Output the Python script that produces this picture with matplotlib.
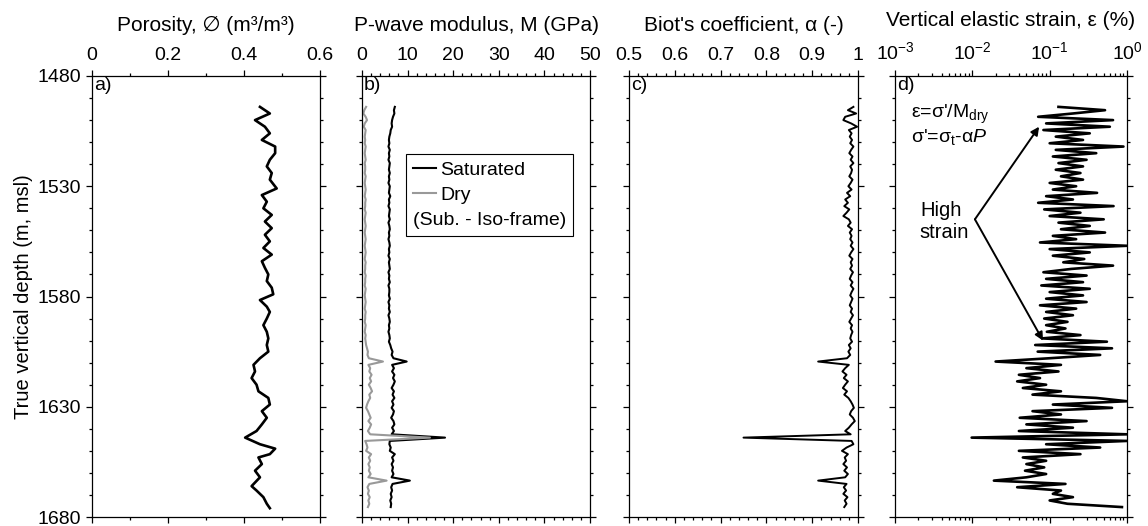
import matplotlib
matplotlib.use("Agg")
import matplotlib.pyplot as plt
from matplotlib.ticker import MultipleLocator, FixedLocator, FuncFormatter, LogLocator, NullFormatter

plt.rcParams['font.family'] = ['Liberation Sans', 'DejaVu Sans']
plt.rcParams['font.size'] = 14.5
plt.rcParams['mathtext.fontset'] = 'custom'
plt.rcParams['mathtext.rm'] = 'Liberation Sans'
plt.rcParams['mathtext.it'] = 'Liberation Sans:italic'
plt.rcParams['mathtext.sf'] = 'Liberation Sans'

depth_ticks = [1480, 1530, 1580, 1630, 1680]

# porosity log (smoothed), m3/m3
por_depth = [1494, 1497, 1500, 1503, 1506, 1509, 1512, 1515, 1518, 1521, 1524, 1527,
             1531, 1534, 1537, 1540, 1543, 1546, 1549, 1552, 1555, 1558, 1561, 1564,
             1567, 1570, 1573, 1576, 1579, 1581.6, 1584.6, 1587, 1590, 1593, 1596, 1599,
             1602, 1605, 1608, 1611, 1614, 1617, 1620, 1623, 1626, 1629, 1632, 1635,
             1638, 1641, 1644, 1647, 1649, 1651.5, 1653, 1656, 1659, 1662, 1666, 1668,
             1671, 1674, 1676]
porosity = [0.442, 0.468, 0.429, 0.455, 0.468, 0.447, 0.482, 0.482, 0.468, 0.460, 0.473, 0.468,
            0.486, 0.447, 0.460, 0.451, 0.473, 0.455, 0.473, 0.455, 0.468, 0.451, 0.473, 0.447,
            0.455, 0.464, 0.460, 0.473, 0.477, 0.442, 0.460, 0.468, 0.460, 0.451, 0.460, 0.464,
            0.460, 0.464, 0.442, 0.425, 0.429, 0.420, 0.433, 0.438, 0.464, 0.468, 0.447, 0.460,
            0.447, 0.433, 0.403, 0.442, 0.482, 0.468, 0.438, 0.447, 0.429, 0.442, 0.420, 0.433,
            0.451, 0.460, 0.468]

# sampled logs for panels b-d
depth = [1494.0, 1495.5, 1497.0, 1498.5, 1500.0, 1501.5, 1503.0, 1504.5, 1506.0, 1507.5,
         1509.0, 1510.5, 1512.0, 1513.5, 1515.0, 1516.5, 1518.0, 1519.5, 1521.0, 1522.5,
         1524.0, 1525.5, 1527.0, 1528.5, 1530.0, 1531.5, 1533.0, 1534.5, 1536.0, 1537.5,
         1539.0, 1540.5, 1542.0, 1543.5, 1545.0, 1546.5, 1548.0, 1549.5, 1551.0, 1552.5,
         1554.0, 1555.5, 1557.0, 1558.5, 1560.0, 1561.5, 1563.0, 1564.5, 1566.0, 1567.5,
         1569.0, 1570.5, 1572.0, 1573.5, 1575.0, 1576.5, 1578.0, 1579.5, 1581.0, 1582.5,
         1584.0, 1585.5, 1587.0, 1588.5, 1590.0, 1591.5, 1593.0, 1594.5, 1596.0, 1597.5,
         1599.0, 1600.5, 1602.0, 1603.5, 1605.0, 1606.5, 1608.0, 1609.5, 1611.0, 1612.5,
         1614.0, 1615.5, 1617.0, 1618.5, 1620.0, 1621.5, 1623.0, 1624.5, 1626.0, 1627.5,
         1629.0, 1630.5, 1632.0, 1633.5, 1635.0, 1636.5, 1638.0, 1639.5, 1641.0, 1642.5,
         1644.0, 1645.5, 1647.0, 1648.5, 1650.0, 1651.5, 1653.0, 1654.5, 1656.0, 1657.5,
         1659.0, 1660.5, 1662.0, 1663.5, 1665.0, 1666.5, 1668.0, 1669.5, 1671.0, 1672.5,
         1674.0, 1675.5]

m_sat = [7.2, 7.0, 7.1, 6.8, 6.6, 6.5, 6.6, 6.3, 6.2, 6.0,
         5.9, 6.0, 5.8, 6.1, 5.9, 6.0, 5.8, 6.1, 6.0, 5.9,
         6.1, 5.9, 6.0, 5.8, 6.1, 6.0, 5.9, 6.2, 5.9, 6.0,
         5.8, 6.1, 6.0, 5.9, 6.1, 5.8, 6.0, 6.1, 5.9, 6.0,
         5.8, 6.0, 6.1, 5.9, 6.0, 5.8, 6.1, 5.9, 6.0, 6.1,
         5.8, 6.0, 5.9, 6.1, 5.8, 6.0, 6.0, 5.9, 6.1, 5.8,
         6.0, 5.9, 6.1, 5.8, 6.0, 6.1, 5.9, 6.0, 5.8, 6.0,
         6.1, 5.9, 6.2, 6.4, 6.7, 6.5, 6.9, 9.8, 6.6, 7.0,
         6.6, 7.1, 6.8, 7.2, 6.9, 6.5, 7.0, 6.7, 7.1, 6.6,
         6.9, 6.5, 7.0, 6.8, 6.4, 6.9, 7.1, 6.6, 7.0, 6.5,
         18.2, 6.1, 6.0, 6.3, 6.1, 7.2, 6.6, 6.9, 6.5, 6.8,
         6.6, 6.9, 6.5, 10.5, 6.7, 6.4, 6.6, 6.3, 6.5, 6.2,
         6.4, 6.3]

m_dry = [0.9, 0.5, 0.3, 0.8, 1.1, 0.6, 0.4, 0.8, 0.7, 0.6,
         0.7, 0.6, 0.8, 0.7, 0.6, 0.7, 0.8, 0.6, 0.7, 0.7,
         0.6, 0.8, 0.7, 0.6, 0.7, 0.8, 0.7, 0.6, 0.8, 0.7,
         0.7, 0.6, 0.8, 0.7, 0.6, 0.7, 0.8, 0.7, 0.6, 0.7,
         0.8, 0.7, 0.6, 0.7, 0.8, 0.7, 0.6, 0.8, 0.7, 0.7,
         0.6, 0.8, 0.7, 0.7, 0.6, 0.8, 0.7, 0.6, 0.7, 0.8,
         0.7, 0.6, 0.8, 0.7, 0.7, 0.6, 0.8, 0.7, 0.6, 0.8,
         0.7, 0.8, 0.9, 1.1, 1.3, 1.2, 1.5, 4.6, 1.4, 1.8,
         1.6, 2.1, 1.7, 2.0, 1.5, 1.9, 2.2, 1.6, 1.8, 1.4,
         1.1, 0.9, 1.3, 1.6, 1.9, 1.4, 2.0, 1.7, 1.3, 1.8,
         14.9, 0.7, 1.0, 1.2, 0.9, 2.0, 1.5, 1.8, 1.4, 1.7,
         1.5, 1.9, 1.4, 5.4, 1.6, 1.2, 1.5, 1.3, 1.7, 1.4,
         1.6, 1.3]

biot = [0.990, 0.978, 0.996, 0.972, 0.968, 0.985, 0.998, 0.980, 0.986, 0.982,
        0.987, 0.983, 0.990, 0.985, 0.981, 0.988, 0.984, 0.990, 0.983, 0.987,
        0.985, 0.981, 0.988, 0.984, 0.979, 0.986, 0.976, 0.983, 0.972, 0.978,
        0.970, 0.981, 0.975, 0.968, 0.980, 0.984, 0.978, 0.987, 0.982, 0.986,
        0.983, 0.988, 0.984, 0.990, 0.985, 0.981, 0.988, 0.984, 0.987, 0.983,
        0.989, 0.985, 0.982, 0.988, 0.984, 0.990, 0.986, 0.983, 0.988, 0.985,
        0.982, 0.987, 0.984, 0.989, 0.985, 0.981, 0.987, 0.984, 0.988, 0.985,
        0.983, 0.987, 0.980, 0.984, 0.979, 0.983, 0.976, 0.913, 0.980, 0.972,
        0.966, 0.975, 0.969, 0.978, 0.972, 0.967, 0.976, 0.970, 0.979, 0.984,
        0.988, 0.991, 0.985, 0.982, 0.989, 0.993, 0.986, 0.980, 0.972, 0.984,
        0.750, 0.986, 0.990, 0.975, 0.965, 0.978, 0.971, 0.974, 0.968, 0.976,
        0.970, 0.978, 0.972, 0.913, 0.975, 0.969, 0.974, 0.968, 0.977, 0.971,
        0.975, 0.970]

strain = [0.13, 0.52, 0.20, 0.071, 0.66, 0.09, 0.60, 0.083, 0.33, 0.12,
          0.27, 0.10, 0.90, 0.12, 0.40, 0.11, 0.30, 0.13, 0.27, 0.12,
          0.25, 0.14, 0.27, 0.10, 0.22, 0.11, 0.41, 0.09, 0.20, 0.071,
          0.67, 0.085, 0.25, 0.10, 0.50, 0.13, 0.33, 0.14, 0.52, 0.11,
          0.22, 0.075, 1.0, 0.10, 0.33, 0.11, 0.28, 0.15, 0.66, 0.19,
          0.083, 0.30, 0.09, 0.27, 0.078, 0.33, 0.10, 0.27, 0.09, 0.30,
          0.075, 0.22, 0.09, 0.20, 0.085, 0.17, 0.09, 0.16, 0.092, 0.25,
          0.08, 0.55, 0.065, 0.64, 0.07, 0.45, 0.10, 0.020, 0.14, 0.05,
          0.13, 0.04, 0.075, 0.038, 0.09, 0.045, 0.14, 0.06, 0.40, 1.0,
          0.11, 0.64, 0.06, 0.14, 0.041, 0.30, 0.05, 0.20, 0.04, 1.0,
          0.0098, 1.0, 0.09, 0.45, 0.04, 0.25, 0.045, 0.09, 0.05, 0.085,
          0.048, 0.09, 0.05, 0.019, 0.16, 0.038, 0.14, 0.11, 0.20, 0.10,
          0.17, 0.86]

GRAY = '#999999'

fig = plt.figure(figsize=(11.48, 5.26), dpi=100)
W, H = 1148, 526
boxes = [(92, 228), (362, 228), (629, 229), (895, 232)]
axs = [fig.add_axes([l / W, 9 / H, w / W, 441 / H]) for l, w in boxes]

fmt_g = FuncFormatter(lambda v, p: '%g' % v)

for ax, lab in zip(axs, ['a)', 'b)', 'c)', 'd)']):
    ax.set_ylim(1680, 1480)
    ax.yaxis.set_major_locator(FixedLocator(depth_ticks))
    ax.yaxis.set_minor_locator(MultipleLocator(10))
    ax.xaxis.set_label_position('top')
    ax.tick_params(which='both', direction='out', top=True, bottom=True,
                   left=True, right=True, labeltop=True, labelbottom=False,
                   labelleft=False, width=0.9, labelsize=14)
    ax.tick_params(which='major', length=4)
    ax.tick_params(which='minor', length=2.2)
    ax.tick_params(axis='x', pad=5)
    ax.tick_params(axis='y', pad=4)
    for s in ax.spines.values():
        s.set_linewidth(0.9)
    ax.text(0.008, 0.997, lab, transform=ax.transAxes, ha='left', va='top', fontsize=14)

# a) porosity
ax = axs[0]
ax.plot(porosity, por_depth, color='k', lw=1.9, solid_joinstyle='round')
ax.set_xlim(0, 0.6)
ax.xaxis.set_major_locator(MultipleLocator(0.2))
ax.xaxis.set_minor_locator(MultipleLocator(0.1))
ax.xaxis.set_major_formatter(fmt_g)
ax.set_xlabel('Porosity, \u2205 (m\u00b3/m\u00b3)', labelpad=11, fontsize=15)
ax.tick_params(axis='y', labelleft=True)
ax.set_ylabel('True vertical depth (m, msl)', labelpad=3)

# b) P-wave modulus
ax = axs[1]
ax.plot(m_sat, depth, color='k', lw=1.5, label='Saturated')
ax.plot(m_dry, depth, color=GRAY, lw=1.5, label='Dry')
ax.set_xlim(0, 50)
ax.xaxis.set_major_locator(MultipleLocator(10))
ax.xaxis.set_minor_locator(MultipleLocator(2))
ax.set_xlabel('P-wave modulus, M (GPa)', labelpad=11, fontsize=15)
leg = ax.legend(loc='upper left', bbox_to_anchor=(0.193, 0.822), title='(Sub. - Iso-frame)',
                alignment='left', title_fontsize=14, fontsize=14, fancybox=False,
                edgecolor='k', framealpha=1, handlelength=1.2, handletextpad=0.2,
                labelspacing=0.38, borderpad=0.35, borderaxespad=0)
leg.get_frame().set_linewidth(0.8)
leg._legend_box._children.reverse()
leg._legend_box.sep = 6

# c) Biot's coefficient
ax = axs[2]
ax.plot(biot, depth, color='k', lw=1.4)
ax.set_xlim(0.5, 1.0)
ax.xaxis.set_major_locator(MultipleLocator(0.1))
ax.xaxis.set_minor_locator(MultipleLocator(0.02))
ax.xaxis.set_major_formatter(fmt_g)
ax.set_xlabel("Biot's coefficient, \u03b1 (-)", labelpad=11, fontsize=15)

# d) vertical elastic strain
ax = axs[3]
ax.plot(strain, depth, color='k', lw=1.9)
ax.set_xscale('log')
ax.set_xlim(1e-3, 1e0)
ax.xaxis.set_major_locator(LogLocator(base=10, numticks=10))
ax.xaxis.set_minor_locator(LogLocator(base=10, subs=range(2, 10), numticks=10))
ax.xaxis.set_minor_formatter(NullFormatter())
ax.set_xlabel('Vertical elastic strain, \u03b5 (%)', labelpad=11, fontsize=15)
ax.text(0.07, 0.912, "\u03b5=\u03c3'/M$_{\\mathrm{dry}}$", transform=ax.transAxes,
        ha='left', va='center', fontsize=14)
ax.text(0.07, 0.862, "\u03c3'=\u03c3$_{\\mathrm{t}}$-\u03b1$\\it{P}$", transform=ax.transAxes,
        ha='left', va='center', fontsize=14)
ax.text(0.0021, 1546, 'High\nstrain', ha='left', va='center', fontsize=14.5, linespacing=1.15)
for tip in [(0.073, 1503), (0.082, 1600)]:
    ax.annotate('', xy=tip, xytext=(0.0108, 1545),
                arrowprops=dict(arrowstyle='-|>', color='k', lw=1.4,
                                mutation_scale=12, shrinkA=0, shrinkB=0))

fig.savefig('out.png', dpi=100)
